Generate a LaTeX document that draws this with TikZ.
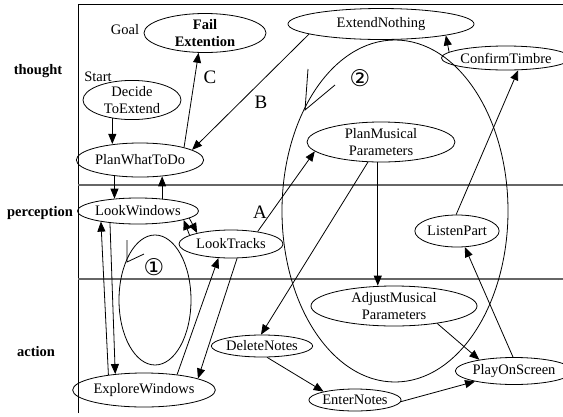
\documentclass[tikz,border=0pt]{standalone}
\usepackage{fontspec}
\setmainfont{Liberation Serif}
\newfontfamily\symfont{DejaVu Sans}
\usetikzlibrary{arrows.meta,shapes.geometric}
\begin{document}
\begin{tikzpicture}[x=1pt,y=-1pt,
  font=\fontsize{14.5}{17.5}\selectfont,
  el/.style={ellipse,draw,line width=0.8pt,inner sep=0pt,align=center},
  arr/.style={line width=0.8pt,-{Triangle[length=10pt,width=8pt]}},
  plain/.style={line width=0.8pt},
  divider/.style={line width=1.3pt,draw=black!60},
  lane/.style={font=\bfseries\fontsize{14.5}{17.5}\selectfont},
  big/.style={font=\fontsize{19}{20}\selectfont},
  circnum/.style={font=\symfont\fontsize{23}{24}\selectfont}]
\useasboundingbox (0,0) rectangle (563,416);
\fill[white] (0,0) rectangle (563,416);
% frame
\draw[plain] (78,413) -- (78,4) -- (563,4);
\draw[divider] (78,185) -- (563,185);
\draw[divider] (78,279) -- (563,279);
% lane labels
\node[lane] (lthought) at (38,71) {thought};
\node[lane] (lperc) at (40,213) {perception};
\node[lane] (laction) at (36,352) {action};
% loops
\draw[plain] (395,211) ellipse [x radius=113pt, y radius=171pt];
\draw[plain] (155,300) ellipse [x radius=36pt, y radius=65pt];
\draw[plain] (308,69) -- (305,110) -- (335,85);
\draw[plain] (127,240) -- (127,262) -- (144,254);
\node[circnum] (c2) at (360,78) {②};
\node[circnum] (c1) at (154,267) {①};
% nodes
\node[el,minimum width=122pt,minimum height=39pt,font=\bfseries\fontsize{14.5}{17}\selectfont] (fail) at (205,33) {Fail\\Extention};
\node (goal) at (125,30) {Goal};
\node (start) at (98,77) {Start};
\node[el,minimum width=98pt,minimum height=36pt] (decide) at (132,100) {Decide\\ToExtend};
\node[el,minimum width=124pt,minimum height=34pt] (plan) at (140,160) {PlanWhatToDo};
\node[el,minimum width=186pt,minimum height=31pt] (extend) at (381,24) {ExtendNothing};
\node[el,minimum width=108pt,minimum height=24pt] (confirm) at (506,58) {ConfirmTimbre};
\node[el,minimum width=148pt,minimum height=40pt] (pmp) at (381,142) {PlanMusical\\Parameters};
\node[el,minimum width=110pt,minimum height=26pt] (lookw) at (138,211) {LookWindows};
\node[el,minimum width=104pt,minimum height=28pt] (lookt) at (231,244) {LookTracks};
\node[el,minimum width=78pt,minimum height=32pt] (listen) at (457,231) {ListenPart};
\node[el,minimum width=166pt,minimum height=40pt] (amp) at (394,306) {AdjustMusical\\Parameters};
\node[el,minimum width=82pt,minimum height=22pt] (delete) at (262,346) {DeleteNotes};
\node[el,minimum width=122pt,minimum height=34pt] (explore) at (144,390) {ExploreWindows};
\node[el,minimum width=84pt,minimum height=22pt] (enter) at (355,400) {EnterNotes};
\node[el,minimum width=108pt,minimum height=27pt] (play) at (514,371) {PlayOnScreen};
% edge labels
\node[big] (la) at (260,212) {A};
\node[big] (lb) at (261,102) {B};
\node[big] (lc) at (210,77) {C};
% edges
\draw[arr] (decide.223.5) -- (decide.223.5 |- plan.147.8);
\draw[arr] (plan.16.6) -- (fail.252.5);
\draw[arr] (extend.188.4) -- (plan.11.9);
\draw[arr] (plan.212.2) -- (plan.212.2 |- lookw.152.5);
\draw[arr] (lookw.27.5) -- (lookw.27.5 |- plan.323.5);
\draw[arr] (lookt.168.2) -- (lookw.349.2);
\draw[arr] (lookw.352.7) -- (lookt.162.1);
\draw[arr] (lookt.25.8) -- (pmp.188.9);
\draw[arr] (lookw.203.7) -- (explore.151);
\draw[arr] (explore.157.5) -- (lookw.196.7);
\draw[arr] (explore.25.3) -- (lookt.228.4);
\draw[arr] (lookt.293.2) -- (explore.12.8);
\draw[arr] (pmp.237) -- (delete.95);
\draw[arr] (pmp.261.5) -- (pmp.261.5 |- amp.north);
\draw[arr] (amp.338.4) -- (play.162.9);
\draw[arr] (delete.294) -- (enter.165);
\draw[arr] (enter.358) -- (play.195);
\draw[arr] (play.94) -- (listen.296.6);
\draw[arr] (listen.93.6) -- (confirm.315);
\draw[arr] (confirm.174) -- (extend.350.4);
\end{tikzpicture}
\end{document}
